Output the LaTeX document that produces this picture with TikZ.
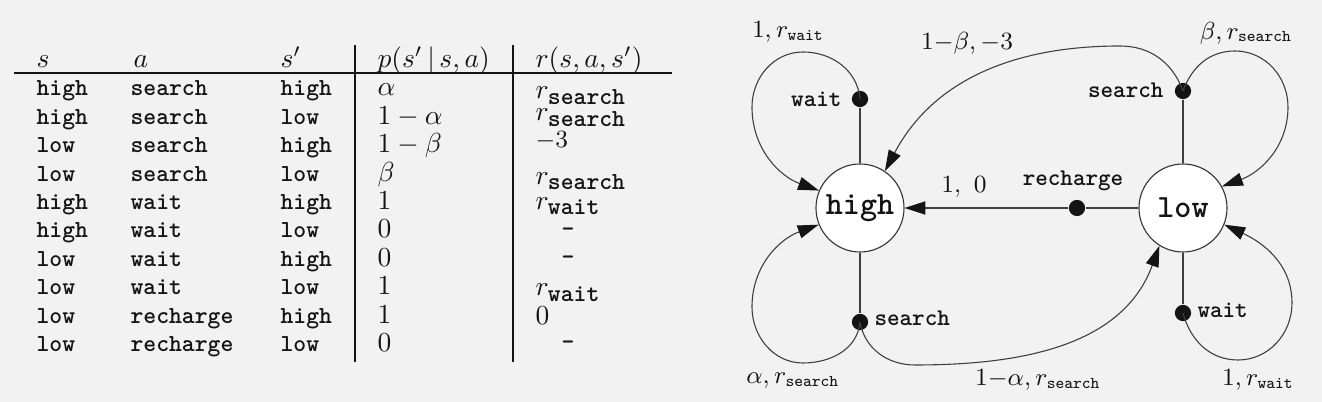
\documentclass[tikz,border=0pt]{standalone}
\usetikzlibrary{arrows.meta}
\definecolor{bg}{HTML}{F2F2F2}
\definecolor{ink}{HTML}{141414}
\begin{document}
\begin{tikzpicture}[x=0.3636pt,y=0.3636pt,
  ttcell/.style={font=\fontsize{8.9}{10}\selectfont\ttfamily\bfseries, inner sep=0pt, anchor=mid west, text=ink},
  mcell/.style={font=\fontsize{10}{12}\selectfont, inner sep=0pt, anchor=mid west, text=ink},
  statenode/.style={circle, draw=black!80, fill=white, minimum size=32pt, inner sep=0pt,
     font=\fontsize{11.8}{13}\selectfont\ttfamily\bfseries, line width=0.4pt, text=ink},
  actdot/.style={circle, fill=ink, minimum size=5.9pt, inner sep=0pt},
  conn/.style={draw=black!75, line width=0.4pt},
  arr/.style={conn, -{Triangle[length=7.6pt,width=4.8pt,color=ink]}},
  elab/.style={font=\fontsize{9}{11}\selectfont, inner sep=0pt, text=ink},
  alab/.style={font=\fontsize{8.7}{10}\selectfont\ttfamily\bfseries, inner sep=0pt, text=ink}
]
\newcommand{\rtt}[1]{r_{\mbox{\fontsize{8.9}{10}\selectfont\ttfamily\bfseries #1}}}
\fill[bg] (0,0) rectangle (1322,402);
\useasboundingbox (0,0) rectangle (1322,402);

% ---------- table ----------
\node[mcell] (hs) at (36,340) {$s$};
\node[mcell] (ha) at (133,340) {$a$};
\node[mcell] (ht) at (280,340) {$s'$};
\node[mcell] (hp) at (377,340) {$p(s'\,|\,s,a)$};
\node[mcell] (hr) at (535,340) {$r(s,a,s')$};
\draw[ink, line width=0.6pt] (14,329) -- (672,329);
\draw[ink, line width=0.6pt] (355,357) -- (355,40);
\draw[ink, line width=0.6pt] (513,357) -- (513,40);

\foreach \i/\s/\a/\t/\p in {1/high/search/high/\alpha, 2/high/search/low/1-\alpha,
   3/low/search/high/1-\beta, 4/low/search/low/\beta, 5/high/wait/high/1,
   6/high/wait/low/0, 7/low/wait/high/0, 8/low/wait/low/1,
   9/low/recharge/high/1, 10/low/recharge/low/0} {
  \pgfmathsetmacro\yy{312-28.4*(\i-1)}
  \node[ttcell] (s\i) at (36,\yy) {\s};
  \node[ttcell] (a\i) at (130,\yy) {\a};
  \node[ttcell] (t\i) at (280,\yy) {\t};
  \node[mcell] (p\i) at (377,\yy) {$\p$};
}
\node[mcell] (r1) at (535,309) {$\rtt{search}$};
\node[mcell] (r2) at (535,287) {$\rtt{search}$};
\node[mcell, font=\fontsize{9.3}{11}\selectfont] (r3) at (535,260) {$-3$};
\node[mcell] (r4) at (535,223.8) {$\rtt{search}$};
\node[mcell] (r5) at (535,198.4) {$\rtt{wait}$};
\node[ttcell, anchor=center] (r6) at (568,170) {-};
\node[ttcell, anchor=center] (r7) at (568,141.6) {-};
\node[mcell] (r8) at (535,112) {$\rtt{wait}$};
\node[mcell] (r9) at (535,83) {$0$};
\node[ttcell, anchor=center] (r10) at (568,56.4) {-};

% ---------- diagram ----------
\node[statenode] (high) at (860,194) {high};
\node[statenode] (low) at (1183,194) {low};
\node[actdot] (hw) at (860,303) {};
\node[actdot] (hsd) at (860,80) {};
\node[actdot] (ls) at (1183,311) {};
\node[actdot] (lw) at (1183,89) {};
\node[actdot] (rc) at (1077,194) {};

\node[alab, anchor=east] (hwl) at (842,303) {wait};
\node[alab, anchor=west] (hsl) at (874,84) {search};
\node[alab, anchor=east] (lsl) at (1164,312) {search};
\node[alab, anchor=west] (lwl) at (1197,92) {wait};
\node[alab] (rcl) at (1073,221) {recharge};

\draw[conn] (hw) -- (high);
\draw[conn] (hsd) -- (high);
\draw[conn] (ls) -- (low);
\draw[conn] (lw) -- (low);
\draw[conn] (low) -- (rc);
\draw[arr] (rc) -- (high);

% loops and arcs
\draw[arr] (hw.center) to[out=95,in=0] (803,350) to[out=180,in=90] (752,295) to[out=-90,in=160] (high.157);
\draw[arr] (hsd.center) to[out=-95,in=0] (803,39) to[out=180,in=-90] (752,95) to[out=90,in=-160] (high.202);
\draw[arr] (ls.center) to[out=110,in=0] (1120,356) to[out=180,in=62] (high.56);
\draw[arr] (ls.center) to[out=70,in=180] (1235,351) to[out=0,in=90] (1288,295) to[out=-90,in=20] (low.29);
\draw[arr] (hsd.center) to[out=-80,in=180] (915,37) to[out=0,in=-110] (low.238);
\draw[arr] (lw.center) to[out=-75,in=180] (1238,42) to[out=0,in=-90] (1292,99) to[out=90,in=-25] (low.-22);

% edge labels
\node[elab] (l1) at (788,370) {$1, r_{\mathtt{wait}}$};
\node[elab] (l2) at (967,359) {$1{-}\beta, -3$};
\node[elab] (l3) at (1246,369) {$\beta, r_{\mathtt{search}}$};
\node[elab] (l4) at (964,215) {$1,\ 0$};
\node[elab] (l5) at (793,21) {$\alpha, r_{\mathtt{search}}$};
\node[elab] (l6) at (1038,22) {$1{-}\alpha, r_{\mathtt{search}}$};
\node[elab] (l7) at (1258,22) {$1, r_{\mathtt{wait}}$};
\end{tikzpicture}
\end{document}
